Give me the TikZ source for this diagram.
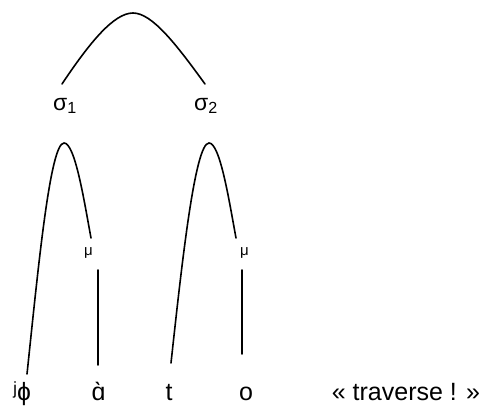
\documentclass[tikz,border=0pt]{standalone}
\usepackage{fontspec}
\setmainfont{Liberation Sans}
\tikzset{
  arc/.style={line width=1.6pt, line cap=round},
  lab/.style={inner sep=0pt, anchor=base, font=\fontsize{25}{27}\selectfont},
  syl/.style={inner sep=0pt, anchor=base, font=\fontsize{23}{25}\selectfont},
  mu/.style={inner sep=0pt, anchor=base, font=\fontsize{15}{17}\selectfont},
}
\begin{document}
\begin{tikzpicture}[x=1pt,y=-1pt]
\useasboundingbox (0,0) rectangle (484,405);
% labels
\node[syl] (s1) at (65,110) {σ\textsubscript{1}};
\node[syl] (s2) at (206,110) {σ\textsubscript{2}};
\node[mu] (m1) at (88.5,255) {μ};
\node[mu] (m2) at (244.5,255) {μ};
\node[lab] (w1) at (22,400) {ʲɸ};
\node[lab] (w2) at (98.5,400) {ɑ̀};
\node[lab] (w3) at (169,400) {t};
\node[lab] (w4) at (246,400) {o};
\node[lab] (gl) at (406,400) {« traverse ! »};
% arc endpoints
\coordinate (a0) at (62,84);
\coordinate (atop) at (133,13);
\coordinate (a1) at (205,84);
\coordinate (b0) at (27,374);
\coordinate (btop) at (64,143);
\coordinate (b1) at (91,238);
\coordinate (c0) at (171,363);
\coordinate (ctop) at (209,143);
\coordinate (c1) at (236,238);
\coordinate (v1a) at (98,270);
\coordinate (v1b) at (98,365);
\coordinate (v2a) at (242,270);
\coordinate (v2b) at (242,354);
% arcs
\draw[arc] (a0) .. controls (90,42) and (114,13) .. (atop) .. controls (152,13) and (176,44) .. (a1);
\draw[arc] (b0) .. controls (38,270) and (50,143) .. (btop) .. controls (75,143) and (84,200) .. (b1);
\draw[arc] (c0) .. controls (182,262) and (195,143) .. (ctop) .. controls (220,143) and (229,200) .. (c1);
\draw[arc] (v1a) -- (v1b);
\draw[arc] (v2a) -- (v2b);
\end{tikzpicture}
\end{document}
